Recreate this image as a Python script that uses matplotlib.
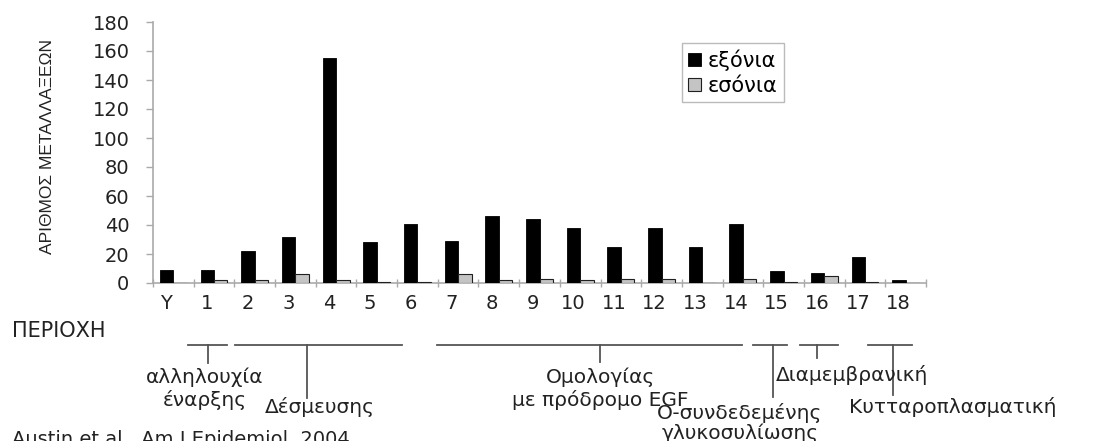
import matplotlib
matplotlib.use("Agg")
import matplotlib.pyplot as plt
import numpy as np

plt.rcParams['font.family'] = ['DejaVu Sans']

# mutation counts per exon region
regions = ['Y', '1', '2', '3', '4', '5', '6', '7', '8', '9', '10', '11', '12', '13', '14', '15', '16', '17', '18']
exonic = [9, 9, 22, 32, 155, 28, 41, 29, 46, 44, 38, 25, 38, 25, 41, 8, 7, 18, 2]
intronic = [0, 2, 2, 6, 2, 1, 1, 6, 2, 3, 2, 3, 3, 0, 3, 1, 5, 1, 0]
yticks = [0, 20, 40, 60, 80, 100, 120, 140, 160, 180]

# protein domains under the axis
domain_names = [['αλληλουχία', 'έναρξης'], ['Δέσμευσης'], ['Ομολογίας', 'με πρόδρομο EGF'],
                ['O-συνδεδεμένης', 'γλυκοσυλίωσης'], ['Διαμεμβρανική'], ['Κυτταροπλασματική']]
# layout in pixels: bracket span, stem (x, bottom), label centre and line gap
bar_spans = [(188, 227), (235, 402), (437, 742), (753, 787), (800, 838), (868, 912)]
stems = [(208, 363), (307, 398), (600, 362), (773, 397), (817, 358), (893, 395)]
label_pos = [(205, 377), (320, 407), (600, 377), (740, 413), (852, 375), (953, 407)]
line_gap = [23, 0, 23, 20, 0, 0]

W, H = 1096, 441
fig = plt.figure(figsize=(W / 100, H / 100), dpi=100)
ax = fig.add_axes([153 / W, 1 - 283 / H, (926 - 153) / W, (283 - 22) / H])

x = np.arange(len(regions))
w = 0.33
ax.bar(x - w / 2, exonic, w, color='black', edgecolor='black', linewidth=0.6, label='εξόνια', zorder=3)
ax.bar(x + w / 2, intronic, w, color='#c4c4c4', edgecolor='#202020', linewidth=0.8, label='εσόνια', zorder=3)

ax.set_xlim(-0.5, len(regions) - 0.5)
ax.set_ylim(0, 180)
ax.set_yticks(yticks)
ax.tick_params(axis='y', colors='#aaaaaa', labelcolor='#222222', labelsize=14, length=5, width=1, pad=12)

ax.set_xticks(x - 0.17)
ax.set_xticklabels(regions)
ax.set_xticks(np.arange(len(regions) + 1) - 0.5, minor=True)
ax.tick_params(axis='x', which='major', length=0, labelsize=14, labelcolor='#222222', pad=8)
ax.tick_params(axis='x', which='minor', direction='inout', length=6, color='#aaaaaa', width=1)

for side in ['top', 'right']:
    ax.spines[side].set_visible(False)
for side in ['left', 'bottom']:
    ax.spines[side].set_color('#aaaaaa')
    ax.spines[side].set_linewidth(1.2)

ax.set_ylabel('ΑΡΙΘΜΟΣ ΜΕΤΑΛΛΑΞΕΩΝ', family=['Liberation Sans'], fontsize=12.5, color='#222222')
ax.yaxis.set_label_coords((55 - 153) / (926 - 153), (283 - 146) / (283 - 22))

leg = ax.legend(loc='upper left', bbox_to_anchor=((682 - 153) / (926 - 153), (283 - 43) / (283 - 22)),
                fontsize=15, frameon=True, fancybox=False, handlelength=0.6, handleheight=0.6,
                handletextpad=0.35, borderpad=0.3, labelspacing=0.25, borderaxespad=0)
leg.get_frame().set_edgecolor('#aaaaaa')
leg.get_frame().set_linewidth(1)

# overlay in pixel units for the domain annotations
ov = fig.add_axes([0, 0, 1, 1], zorder=-1)
ov.set_xlim(0, W)
ov.set_ylim(H, 0)
ov.axis('off')

ov.text(12, 331, 'ΠΕΡΙΟΧΗ', fontsize=15, color='#222222', va='center', ha='left')
line_y = 345
for (x0, x1), (sx, sy) in zip(bar_spans, stems):
    ov.plot([x0, x1], [line_y, line_y], color='#555555', lw=1.3)
    ov.plot([sx, sx], [line_y, sy], color='#555555', lw=1.3)

for lines, (tx, ty), gap in zip(domain_names, label_pos, line_gap):
    for i, s in enumerate(lines):
        ov.text(tx, ty + i * gap, s, fontsize=14.5, color='#222222', ha='center', va='center')

ov.text(12, 430, 'Austin et al., Am J Epidemiol, 2004', fontsize=14, color='#222222', ha='left', va='top')

fig.savefig('out.png', dpi=100)
